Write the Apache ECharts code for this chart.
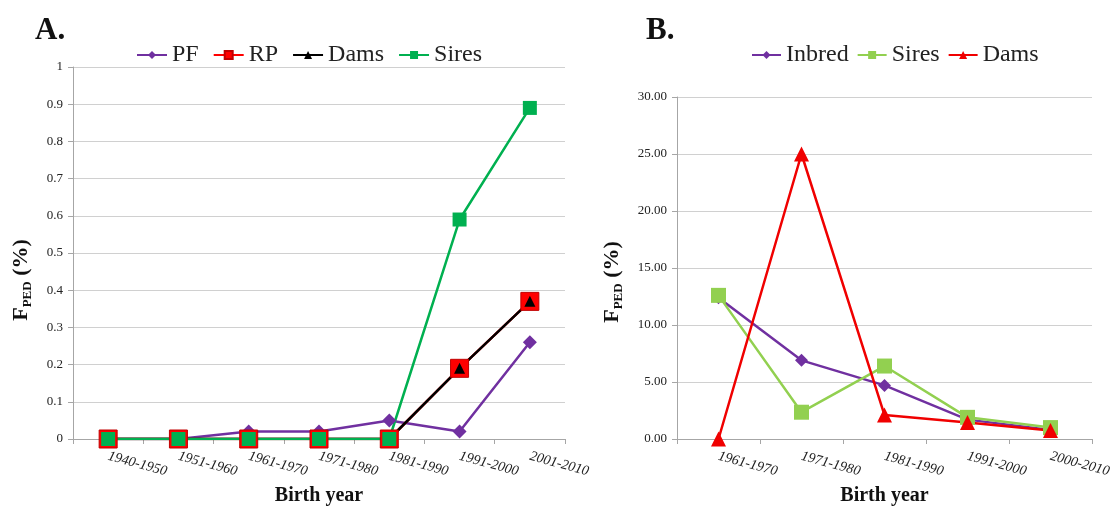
<!DOCTYPE html>
<html>
<head>
<meta charset="utf-8">
<script src="https://cdn.jsdelivr.net/npm/echarts@6/dist/echarts.min.js"></script>
<style>html,body{margin:0;padding:0;background:#fff}#c{width:1115px;height:511px}</style>
</head>
<body>
<div id="c"></div>
<script>
// ---- Data: panel A ----
var catsA = ['1940-1950','1951-1960','1961-1970','1971-1980','1981-1990','1991-2000','2001-2010'];
var pfA    = [0, 0, 0.02, 0.02, 0.05, 0.02, 0.26];
var rpA    = [0, 0, 0, 0, 0, 0.19, 0.37];
var damsA  = [0, 0, 0, 0, 0, 0.19, 0.37];
var siresA = [0, 0, 0, 0, 0, 0.59, 0.89];
// ---- Data: panel B ----
var catsB = ['1961-1970','1971-1980','1981-1990','1991-2000','2000-2010'];
var inbredB = [12.4, 6.9, 4.7, 1.7, 0.8];
var siresB  = [12.6, 2.35, 6.4, 1.9, 1.0];
var damsB   = [0, 25.0, 2.1, 1.45, 0.75];

var FONT = "'Liberation Serif','Times New Roman',serif";
var chart = echarts.init(document.getElementById('c'), null, {renderer:'canvas'});

function xAxisCfg(cats, idx){
  return {
    type:'category', gridIndex:idx, data:cats, boundaryGap:true,
    axisLine:{lineStyle:{color:'#A6A6A6', width:1}},
    axisTick:{show:true, length:5, lineStyle:{color:'#A6A6A6'}},
    axisLabel:{interval:0, rotate:-15, fontFamily:FONT, fontStyle:'italic', fontSize:14, color:'#222', margin:17},
    name:'Birth year', nameLocation:'middle', nameGap:47,
    nameTextStyle:{fontFamily:FONT, fontWeight:'bold', fontSize:20, color:'#111'}
  };
}
function yAxisCfg(idx, max, interval, fmt){
  return {
    type:'value', gridIndex:idx, min:0, max:max, interval:interval,
    axisLine:{show:true, lineStyle:{color:'#A6A6A6'}},
    axisTick:{show:true, length:5, lineStyle:{color:'#A6A6A6'}},
    axisLabel:{fontFamily:FONT, fontSize:13, color:'#222', margin:10, formatter:fmt},
    splitLine:{lineStyle:{color:'#D0D0D0', width:1}}
  };
}
function yName(x, y){
  return {
    type:'text', x:x, y:y, rotation:Math.PI/2,
    style:{
      text:'{f|F}{s|PED}{f| (%)}', align:'center', verticalAlign:'middle',
      rich:{
        f:{fontFamily:FONT, fontWeight:'bold', fontSize:22, fill:'#111', lineHeight:26},
        s:{fontFamily:FONT, fontWeight:'bold', fontSize:13, fill:'#111', verticalAlign:'bottom', lineHeight:14}
      }
    }
  };
}
function ser(name, data, xi, color, symbol, size, extra){
  var s = {
    name:name, type:'line', xAxisIndex:xi, yAxisIndex:xi, data:data,
    symbol:symbol, symbolSize:size, showSymbol:true,
    lineStyle:{color:color, width:2.5}, itemStyle:{color:color},
    emphasis:{disabled:true}
  };
  if (extra) for (var k in extra) s[k] = extra[k];
  return s;
}

var option = {
  animation:false,
  backgroundColor:'#fff',
  title:[
    {text:'A.', left:30, top:10, textStyle:{fontFamily:FONT, fontWeight:'bold', fontSize:31, color:'#111'}},
    {text:'B.', left:641, top:10, textStyle:{fontFamily:FONT, fontWeight:'bold', fontSize:31, color:'#111'}}
  ],
  legend:[
    {data:['PF','RP','Dams','Sires'], left:131, top:38, itemWidth:30, itemHeight:10, itemGap:14,
     textStyle:{fontFamily:FONT, fontSize:24, color:'#222'}},
    {data:['Inbred','Sires ','Dams '], left:746, top:38, itemWidth:29, itemHeight:10, itemGap:8,
     formatter:function(n){return n.trim();},
     textStyle:{fontFamily:FONT, fontSize:24, color:'#222'}}
  ],
  grid:[
    {left:73, top:67, width:492, height:379},
    {left:677, top:97, width:415, height:349}
  ],
  xAxis:[xAxisCfg(catsA,0), xAxisCfg(catsB,1)],
  yAxis:[
    yAxisCfg(0, 1, 0.1, function(v){return String(Math.round(v*10)/10);}),
    yAxisCfg(1, 30, 5, function(v){return v.toFixed(2);})
  ],
  graphic:[yName(21, 280), yName(612, 282)],
  series:[
    ser('PF', pfA, 0, '#7030A0', 'diamond', 14),
    ser('RP', rpA, 0, '#FF0000', 'rect', 18, {itemStyle:{color:'#FF0000', borderColor:'#C00000', borderWidth:1}}),
    ser('Dams', damsA, 0, '#000000', 'triangle', 11),
    ser('Sires', siresA, 0, '#00B050', 'rect', 14),
    ser('Inbred', inbredB, 1, '#7030A0', 'diamond', 13),
    ser('Sires ', siresB, 1, '#92D050', 'rect', 15),
    ser('Dams ', damsB, 1, '#F00000', 'triangle', 15)
  ]
};
chart.setOption(option);
</script>
</body>
</html>
